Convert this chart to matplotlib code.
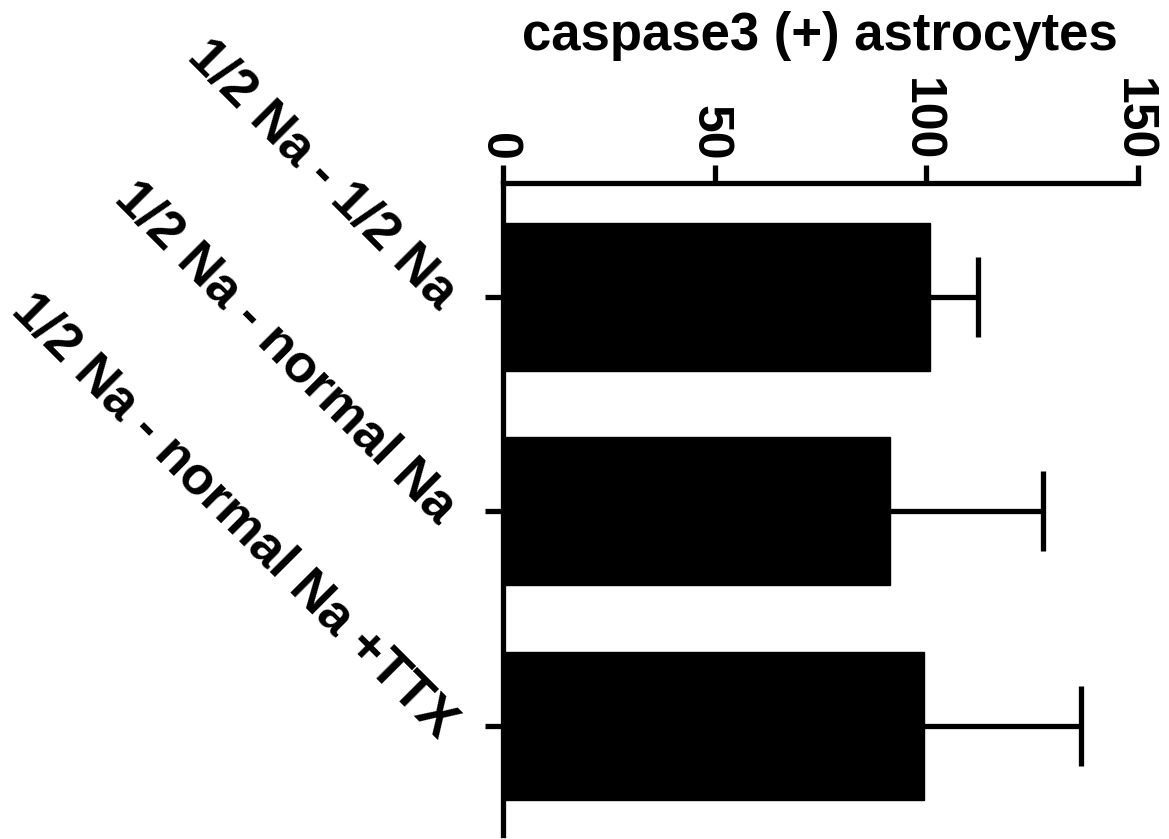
import matplotlib
matplotlib.use("Agg")
import matplotlib.pyplot as plt
import numpy as np

categories = ["1/2 Na - 1/2 Na", "1/2 Na - normal Na", "1/2 Na - normal Na +TTX"]
values = [100.8, 91.5, 99.5]
errors = [11.5, 36.0, 37.0]
xticks = [0, 50, 100, 150]
title = "caspase3 (+) astrocytes"

plt.rcParams['font.family'] = ['Liberation Sans', 'DejaVu Sans']
plt.rcParams['font.weight'] = 'bold'

fig = plt.figure(figsize=(11.69, 8.39), dpi=100)
ax = fig.add_axes([503/1169, 1-835/839, (1138-503)/1169, (835-183)/839])

ypos = np.arange(len(categories))
vals = np.array(values)
errs = np.array(errors)
ax.barh(ypos, vals, height=0.69, color='black', edgecolor='black', zorder=2)
ax.errorbar(vals, ypos, xerr=[np.zeros(len(errs)), errs], fmt='none',
            ecolor='black', elinewidth=3.8, capsize=0, zorder=1)
ax.plot(vals + errs, ypos, ls='none', marker='|', markersize=57,
        mew=3.8, color='black', zorder=1)

ax.set_xlim(0, 150)
ax.set_ylim(2.508, -0.531)
ax.xaxis.tick_top()
ax.set_xticks(xticks)
ax.set_xticklabels([str(t) for t in xticks], rotation=-90, fontsize=36,
                   fontweight='bold', rotation_mode='anchor',
                   ha='right', va='center_baseline')
ax.set_yticks(ypos)
ax.set_yticklabels(categories, rotation=-45, ha='right', va='center_baseline',
                   rotation_mode='anchor', fontsize=38, fontweight='bold')

for s in ['right', 'bottom']:
    ax.spines[s].set_visible(False)
for s in ['left', 'top']:
    ax.spines[s].set_linewidth(3.8)
ax.tick_params(axis='x', direction='out', length=13, width=3.8, pad=3)
ax.tick_params(axis='y', direction='out', length=13, width=3.8, pad=24)

fig.text(820/1169, 1-36/839, title, ha='center', va='center',
         fontsize=38, fontweight='bold')

fig.savefig("out.png", dpi=100, facecolor='white')
